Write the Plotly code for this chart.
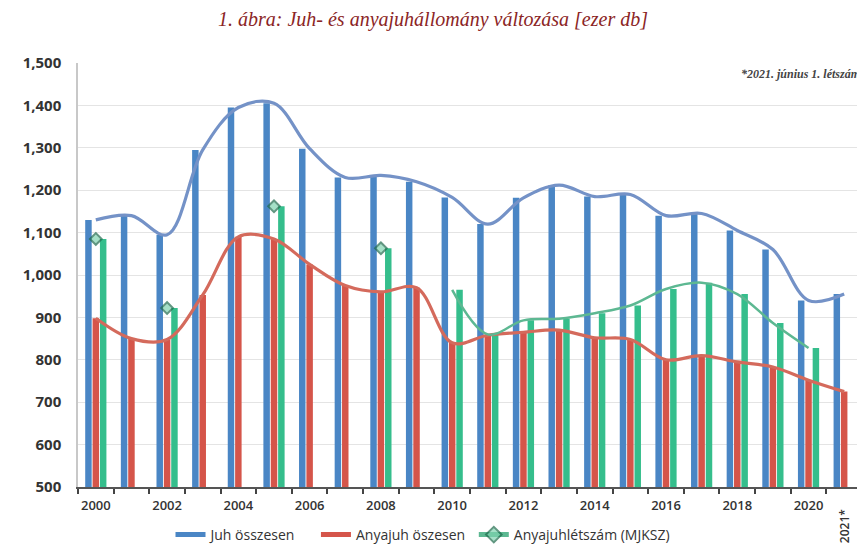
import plotly.graph_objects as go

years = list(range(2000, 2022))
juh_osszesen = [1130, 1140, 1095, 1295, 1395, 1405, 1298, 1230, 1235, 1220, 1183,
                1120, 1182, 1212, 1185, 1190, 1140, 1145, 1105, 1060, 940, 955]
anyajuh_osszesen = [898, 850, 848, 953, 1090, 1085, 1025, 975, 960, 970, 840,
                    858, 865, 870, 852, 848, 800, 810, 795, 783, 752, 725]
anyajuh_mjksz = [1085, None, 922, None, None, 1162, None, None, 1063, None, 965,
                 860, 893, 897, 910, 928, 967, 982, 955, 887, 828, None]
tick_years = list(range(2000, 2021, 2))
tick_labels = [str(y) for y in tick_years]

BLUE = "#4A86C5"
RED = "#D5554A"
GREEN = "#35BE8C"
BLUE_L = "#7492C7"
RED_L = "#D46A5C"
GREEN_L = "#5DB892"

# The page body has an 8px default margin; the figure is sized so that it fills the window.
W, H = 857, 538
OFF = 8

fig = go.Figure()
fig.add_bar(x=years, y=juh_osszesen, name="Juh összesen", marker_color=BLUE,
            marker_line_width=0, showlegend=False, legendgroup="juh")
fig.add_bar(x=years, y=anyajuh_osszesen, name="Anyajuh öszesen", marker_color=RED,
            marker_line_width=0, showlegend=False, legendgroup="anya")
fig.add_bar(x=years, y=anyajuh_mjksz, name="Anyajuhlétszám (MJKSZ)", marker_color=GREEN,
            marker_line_width=0, showlegend=False, legendgroup="mjksz")

fig.add_scatter(x=years, y=juh_osszesen, mode="lines", line=dict(color=BLUE_L, width=3.2, shape="spline"),
                showlegend=False, hoverinfo="skip", legendgroup="juh")
fig.add_scatter(x=years, y=anyajuh_osszesen, mode="lines", line=dict(color=RED_L, width=3.2, shape="spline"),
                showlegend=False, hoverinfo="skip", legendgroup="anya")
isolated = [(v is not None and (i == 0 or anyajuh_mjksz[i-1] is None) and
             (i == len(anyajuh_mjksz)-1 or anyajuh_mjksz[i+1] is None)) for i, v in enumerate(anyajuh_mjksz)]

# legend swatches (wide flat rectangles as in the reference)
fig.add_scatter(x=[None], y=[None], mode="lines", name="Juh összesen" + "\u00a0" * 4,
                line=dict(color=BLUE, width=8), legendgroup="juh", legendrank=1)
fig.add_scatter(x=[None], y=[None], mode="lines", name="Anyajuh öszesen" + "\u00a0",
                line=dict(color=RED, width=8), legendgroup="anya", legendrank=2)
fig.add_scatter(x=years, y=anyajuh_mjksz, mode="lines+markers", name="Anyajuhlétszám (MJKSZ)",
                line=dict(color=GREEN_L, width=2.5, shape="spline"), connectgaps=False,
                marker=dict(symbol="diamond", size=[9 if s else 0 for s in isolated],
                            color="#7FD3B0", line=dict(color="#1F6B4C", width=2)),
                legendrank=3, hoverinfo="skip", legendgroup="mjksz")

fig.update_layout(
    width=W, height=H,
    margin=dict(l=78 - OFF, r=3, t=63 - OFF, b=H - (487 - OFF), autoexpand=False),
    paper_bgcolor="white", plot_bgcolor="white",
    barmode="group", bargap=0.38, bargroupgap=0.12,
    font=dict(family="Open Sans", color="#333333"),
    title=dict(text="<i>1. ábra: Juh- és anyajuhállomány változása [ezer db]</i>",
               x=(433 - OFF) / W, xref="container", xanchor="center",
               y=1 - (19 - OFF) / H, yref="container", yanchor="middle",
               font=dict(family="Liberation Serif", size=20, color="#8B2525")),
    legend=dict(orientation="h", xref="container", x=(423 - OFF) / W, xanchor="center",
                yref="container", y=(H - (535 - OFF)) / H, yanchor="middle",
                font=dict(size=14, color="#333333"), traceorder="normal",
                itemsizing="constant", itemwidth=30),
    showlegend=True,
)
fig.update_xaxes(
    range=[1999.5, 2021.5], tickmode="array", tickvals=tick_years, ticktext=tick_labels,
    ticks="", showgrid=False, showline=True, linecolor="#555555", linewidth=1.5,
    tickfont=dict(size=13, color="#333333", weight=600), automargin=False,
    ticklabelstandoff=6,
    minor=dict(tickmode="linear", tick0=1999.5, dtick=1, ticks="outside", ticklen=5,
               tickcolor="#444444", tickwidth=1.5, showgrid=False),
    zeroline=False,
)
fig.update_yaxes(
    range=[500, 1500], tickmode="linear", tick0=500, dtick=100, tickformat=",",
    showgrid=True, gridcolor="#E4E4E4", gridwidth=1,
    showline=True, linecolor="#C8C8C8", linewidth=1.5, ticks="",
    tickfont=dict(size=15, color="#333333", weight="bold"), ticklabelstandoff=12,
    zeroline=False, automargin=False,
)
fig.add_annotation(text="*2021. június 1. létszám", xref="paper", yref="paper",
                   x=1.0, y=0.973, xanchor="right", yanchor="middle", showarrow=False,
                   font=dict(family="Liberation Serif", size=12, color="#444444",
                             weight="bold", style="italic"))
fig.add_annotation(text="2021*", xref="x", yref="paper", x=2021, y=-0.092,
                   textangle=-90, xanchor="center", yanchor="middle", showarrow=False,
                   font=dict(size=12, color="#333333", weight=600))

fig.write_html("out.html")
